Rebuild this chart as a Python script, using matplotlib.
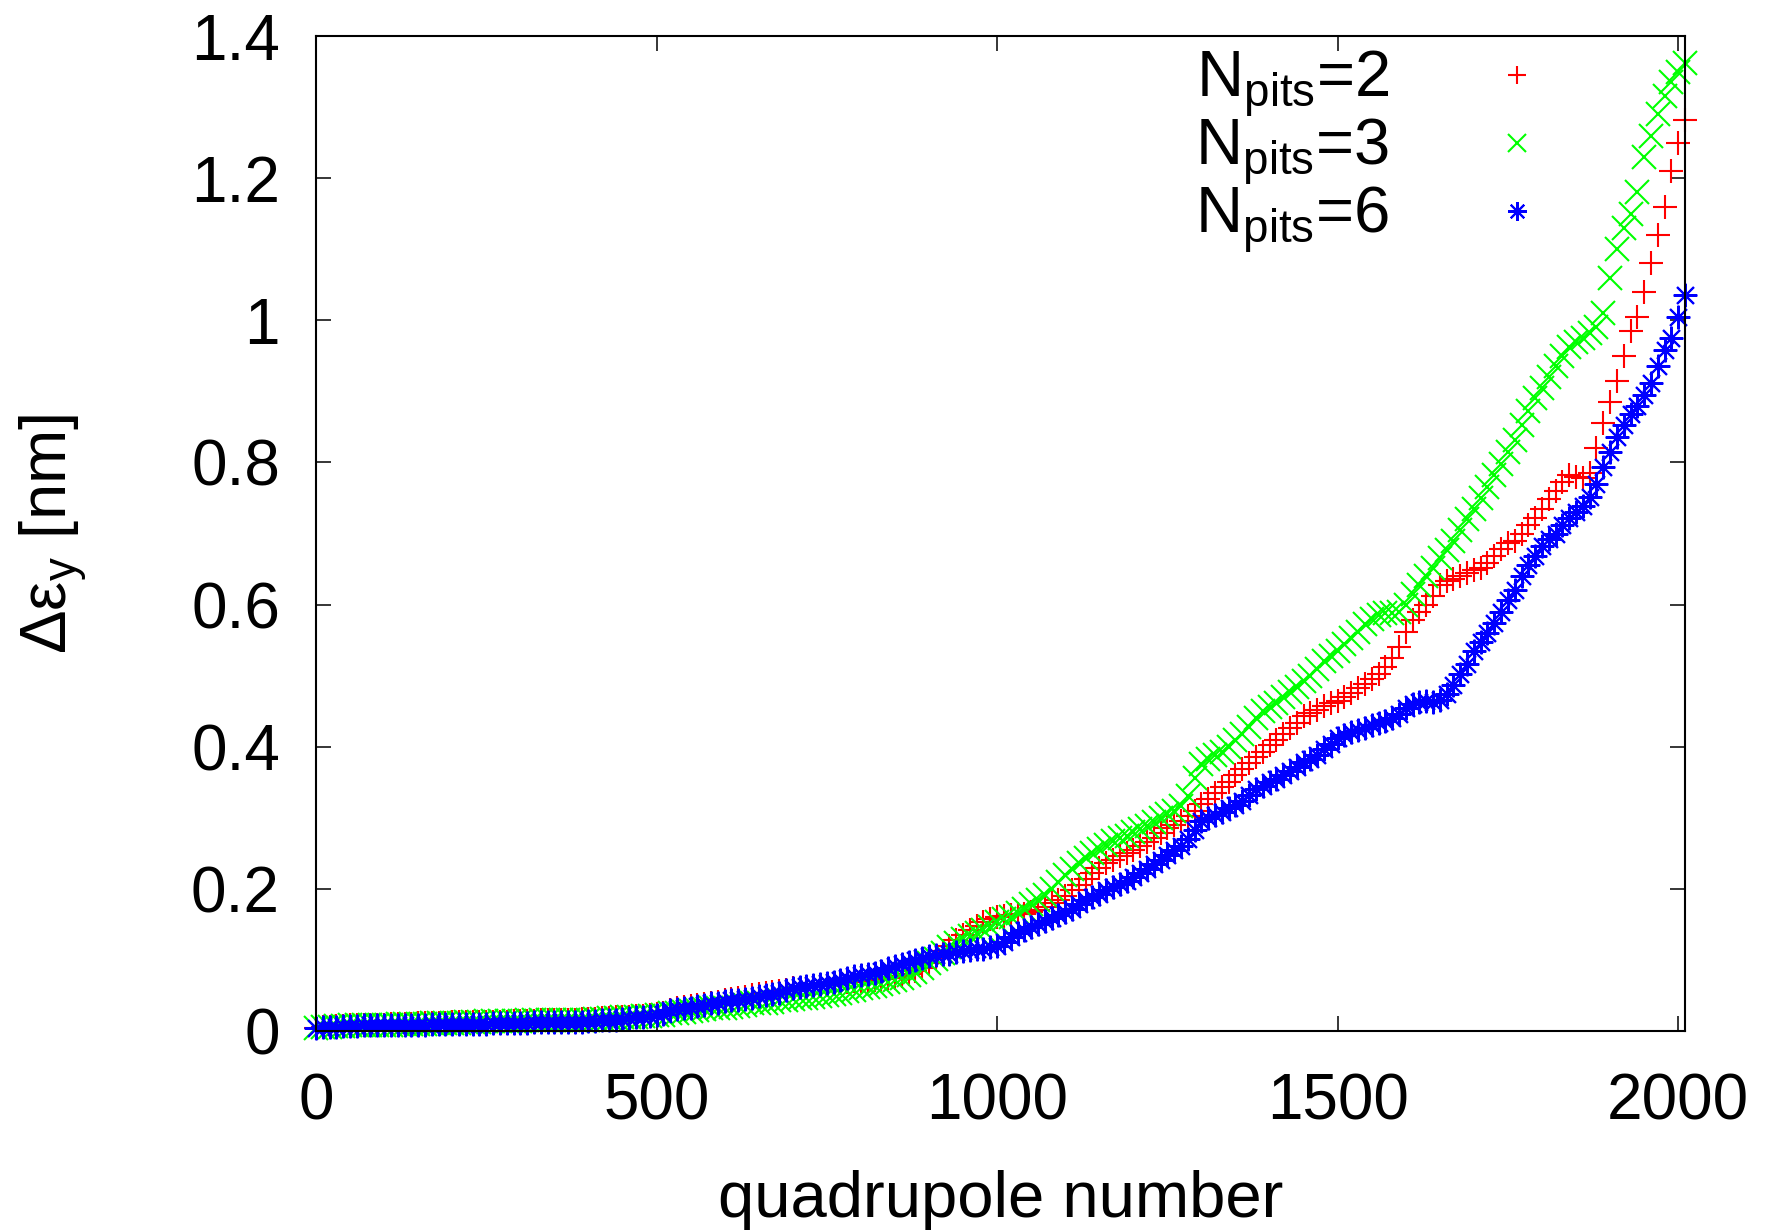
import numpy as np
import matplotlib
matplotlib.use("Agg")
import matplotlib.pyplot as plt

plt.rcParams['font.family'] = ['Liberation Sans', 'DejaVu Sans']
plt.rcParams['mathtext.fontset'] = 'custom'
plt.rcParams['mathtext.rm'] = 'Liberation Sans'
plt.rcParams['mathtext.it'] = 'Liberation Sans:italic'
plt.rcParams['mathtext.default'] = 'regular'

# quadrupole number at which the values were read (every 10th quadrupole)
quad = np.arange(0, 2011, 10)

# Delta eps_y [nm], N_pits = 2 (red +)
eps_n2 = [
    0.004, 0.005, 0.006, 0.007, 0.007, 0.008, 0.008, 0.009, 0.009, 0.009,
    0.009, 0.010, 0.010, 0.010, 0.010, 0.011, 0.011, 0.011, 0.011, 0.011,
    0.012, 0.012, 0.012, 0.012, 0.012, 0.013, 0.013, 0.013, 0.013, 0.014,
    0.014, 0.014, 0.014, 0.015, 0.015, 0.015, 0.016, 0.016, 0.016, 0.017,
    0.017, 0.017, 0.018, 0.018, 0.019, 0.019, 0.020, 0.021, 0.021, 0.022,
    0.024, 0.026, 0.030, 0.033, 0.034, 0.035, 0.037, 0.038, 0.040, 0.041,
    0.043, 0.045, 0.047, 0.048, 0.050, 0.052, 0.053, 0.055, 0.056, 0.058,
    0.060, 0.061, 0.062, 0.063, 0.064, 0.066, 0.067, 0.068, 0.069, 0.070,
    0.070, 0.071, 0.072, 0.073, 0.074, 0.075, 0.077, 0.080, 0.084, 0.089,
    0.095, 0.103, 0.112, 0.120, 0.128, 0.135, 0.142, 0.148, 0.153, 0.158,
    0.160, 0.162, 0.163, 0.164, 0.165, 0.167, 0.170, 0.175, 0.180, 0.185,
    0.190, 0.198, 0.206, 0.214, 0.222, 0.230, 0.236, 0.241, 0.246, 0.250,
    0.255, 0.260, 0.266, 0.272, 0.278, 0.285, 0.290, 0.295, 0.302, 0.310,
    0.320, 0.327, 0.335, 0.343, 0.351, 0.360, 0.368, 0.377, 0.385, 0.393,
    0.402, 0.410, 0.418, 0.426, 0.434, 0.443, 0.448, 0.452, 0.457, 0.461,
    0.465, 0.470, 0.476, 0.482, 0.488, 0.495, 0.503, 0.512, 0.525, 0.540,
    0.562, 0.578, 0.590, 0.600, 0.612, 0.628, 0.633, 0.636, 0.640, 0.645,
    0.648, 0.652, 0.658, 0.668, 0.678, 0.686, 0.690, 0.700, 0.712, 0.722,
    0.735, 0.748, 0.760, 0.772, 0.783, 0.780, 0.778, 0.785, 0.820, 0.855,
    0.885, 0.915, 0.950, 0.985, 1.005, 1.040, 1.080, 1.120, 1.160, 1.210,
    1.250, 1.282,
]

# Delta eps_y [nm], N_pits = 3 (green x)
eps_n3 = [
    0.004, 0.005, 0.006, 0.007, 0.007, 0.008, 0.008, 0.009, 0.009, 0.009,
    0.009, 0.009, 0.010, 0.010, 0.010, 0.010, 0.010, 0.011, 0.011, 0.011,
    0.011, 0.011, 0.012, 0.012, 0.012, 0.014, 0.014, 0.014, 0.014, 0.014,
    0.014, 0.015, 0.015, 0.015, 0.015, 0.015, 0.016, 0.016, 0.016, 0.016,
    0.016, 0.017, 0.017, 0.018, 0.018, 0.019, 0.020, 0.020, 0.021, 0.021,
    0.022, 0.023, 0.025, 0.026, 0.027, 0.028, 0.030, 0.031, 0.032, 0.033,
    0.033, 0.034, 0.035, 0.037, 0.039, 0.040, 0.040, 0.041, 0.043, 0.044,
    0.045, 0.046, 0.047, 0.048, 0.049, 0.050, 0.052, 0.054, 0.056, 0.058,
    0.060, 0.062, 0.064, 0.066, 0.069, 0.072, 0.075, 0.079, 0.083, 0.089,
    0.095, 0.102, 0.110, 0.118, 0.124, 0.130, 0.134, 0.138, 0.142, 0.147,
    0.153, 0.157, 0.161, 0.166, 0.172, 0.178, 0.184, 0.192, 0.200, 0.210,
    0.220, 0.228, 0.236, 0.244, 0.250, 0.256, 0.262, 0.267, 0.271, 0.275,
    0.280, 0.284, 0.289, 0.294, 0.299, 0.305, 0.310, 0.316, 0.330, 0.356,
    0.376, 0.383, 0.388, 0.393, 0.400, 0.410, 0.418, 0.428, 0.440, 0.450,
    0.456, 0.462, 0.470, 0.477, 0.484, 0.492, 0.500, 0.510, 0.520, 0.528,
    0.535, 0.544, 0.553, 0.562, 0.572, 0.580, 0.585, 0.588, 0.588, 0.590,
    0.600, 0.615, 0.628, 0.640, 0.652, 0.665, 0.677, 0.690, 0.705, 0.720,
    0.735, 0.750, 0.766, 0.782, 0.798, 0.815, 0.832, 0.852, 0.872, 0.890,
    0.905, 0.920, 0.935, 0.950, 0.962, 0.970, 0.975, 0.982, 0.990, 1.010,
    1.060, 1.100, 1.130, 1.150, 1.180, 1.230, 1.260, 1.290, 1.315, 1.335,
    1.350, 1.362,
]

# Delta eps_y [nm], N_pits = 6 (blue *)
eps_n6 = [
    0.004, 0.005, 0.006, 0.006, 0.007, 0.007, 0.007, 0.008, 0.008, 0.008,
    0.008, 0.008, 0.009, 0.009, 0.009, 0.009, 0.009, 0.010, 0.010, 0.010,
    0.010, 0.010, 0.010, 0.010, 0.010, 0.010, 0.011, 0.011, 0.011, 0.011,
    0.011, 0.011, 0.012, 0.012, 0.012, 0.012, 0.012, 0.013, 0.013, 0.013,
    0.014, 0.014, 0.015, 0.016, 0.016, 0.017, 0.018, 0.019, 0.020, 0.021,
    0.023, 0.024, 0.029, 0.031, 0.032, 0.033, 0.035, 0.037, 0.039, 0.040,
    0.042, 0.043, 0.044, 0.045, 0.047, 0.049, 0.050, 0.052, 0.054, 0.057,
    0.060, 0.062, 0.063, 0.065, 0.066, 0.068, 0.069, 0.072, 0.075, 0.077,
    0.079, 0.080, 0.082, 0.085, 0.088, 0.092, 0.094, 0.097, 0.100, 0.103,
    0.106, 0.107, 0.108, 0.109, 0.111, 0.112, 0.114, 0.115, 0.116, 0.118,
    0.120, 0.125, 0.132, 0.138, 0.142, 0.146, 0.150, 0.155, 0.159, 0.163,
    0.167, 0.172, 0.178, 0.184, 0.188, 0.193, 0.198, 0.203, 0.207, 0.211,
    0.216, 0.222, 0.228, 0.235, 0.241, 0.248, 0.254, 0.261, 0.270, 0.283,
    0.296, 0.300, 0.304, 0.308, 0.314, 0.318, 0.324, 0.332, 0.340, 0.345,
    0.350, 0.355, 0.360, 0.366, 0.372, 0.378, 0.383, 0.389, 0.397, 0.404,
    0.412, 0.416, 0.420, 0.424, 0.427, 0.430, 0.433, 0.436, 0.440, 0.446,
    0.455, 0.460, 0.463, 0.464, 0.463, 0.466, 0.474, 0.487, 0.502, 0.516,
    0.535, 0.548, 0.560, 0.574, 0.590, 0.606, 0.620, 0.640, 0.655, 0.668,
    0.682, 0.692, 0.700, 0.712, 0.722, 0.730, 0.738, 0.752, 0.770, 0.794,
    0.815, 0.836, 0.852, 0.868, 0.880, 0.895, 0.912, 0.935, 0.958, 0.975,
    1.005, 1.035,
]

series_labels = [r'N$_{pits}$=2', r'N$_{pits}$=3', r'N$_{pits}$=6']
x_ticks = [0, 500, 1000, 1500, 2000]
y_ticks = [0, 0.2, 0.4, 0.6, 0.8, 1.0, 1.2, 1.4]
y_tick_labels = ['0', '0.2', '0.4', '0.6', '0.8', '1', '1.2', '1.4']

FS = 46
fig = plt.figure(figsize=(17.78, 12.30), dpi=100)
ax = fig.add_axes([0.17773, 0.16179, 0.76997, 0.80894])

styles = [('+', '#ff0000'), ('x', '#00ff00'), ((8, 2, 0), '#0000ff')]
for vals, lab, (mk, col) in zip([eps_n2, eps_n3, eps_n6], series_labels, styles):
    ax.plot(quad, vals, ls='none', marker=mk, ms=17, mew=1.5, color=col,
            clip_on=False, label=lab)

ax.set_xlim(0, 2010)
ax.set_ylim(0, 1.4)
ax.set_xticks(x_ticks)
ax.set_xticklabels([str(t) for t in x_ticks])
ax.set_yticks(y_ticks)
ax.set_yticklabels(y_tick_labels)
ax.tick_params(direction='in', length=10.8, width=1.1, top=True, right=True,
               labelsize=FS, color='black')
ax.tick_params(axis='x', pad=30)
ax.tick_params(axis='y', pad=26)
for sp in ax.spines.values():
    sp.set_linewidth(1.5)

ax.set_xlabel('quadrupole number', fontsize=47)
ax.xaxis.set_label_coords(0.5, -0.140)
ax.set_ylabel(r'Δε$_{y}$ [nm]', fontsize=47)
ax.yaxis.set_label_coords(-0.1653, 0.5)

LFS = 47
leg = ax.legend(loc='upper right', bbox_to_anchor=(0.890, 0.960),
                bbox_transform=fig.transFigure, frameon=False, markerfirst=False,
                fontsize=LFS, handlelength=2.0, handletextpad=0.96,
                labelspacing=-0.05, borderpad=0, borderaxespad=0, markerscale=0.8)

fig.savefig('out.png', dpi=100)
